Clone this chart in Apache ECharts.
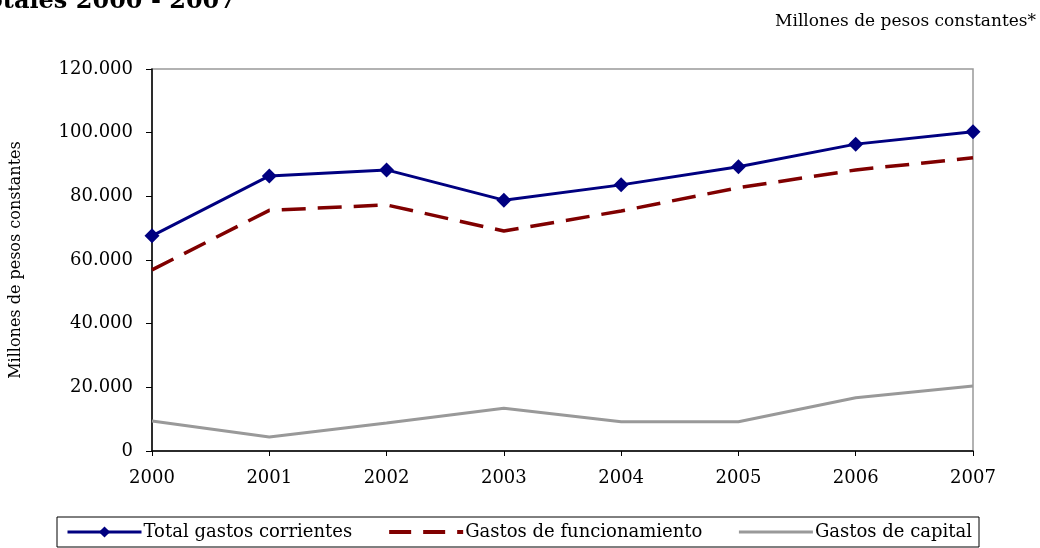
<!DOCTYPE html>
<html>
<head>
<meta charset="utf-8">
<script src="https://cdn.jsdelivr.net/npm/echarts@6/dist/echarts.min.js"></script>
<style>
  html, body { margin: 0; padding: 0; background: #fff; }
  #chart { width: 1040px; height: 548px; }
</style>
</head>
<body>
<div id="chart"></div>
<script>
// años
var years = ['2000', '2001', '2002', '2003', '2004', '2005', '2006', '2007']
// series (millones de pesos constantes)
var totalCorrientes = [67600, 86400, 88300, 78800, 83600, 89300, 96400, 100300]
var funcionamiento = [56900, 75600, 77300, 69100, 75400, 82700, 88300, 92100]
var capital = [9400, 4400, 8800, 13400, 9200, 9200, 16700, 20400]
var seriesNames = ['Total gastos corrientes', 'Gastos de funcionamiento', 'Gastos de capital']

var font = 'DejaVu Serif'
var noSymbol = { color: 'rgba(0,0,0,0)', borderWidth: 0 }

var myChart = echarts.init(document.getElementById('chart'))
myChart.setOption({
  animation: false,
  textStyle: { fontFamily: font, color: '#000' },
  title: [
    {
      // título cortado arriba
      text: 'Gastos totales 2000 - 2007',
      right: 804,
      top: -10,
      padding: 0,
      textStyle: { fontFamily: font, fontSize: 24, fontWeight: 'bold', color: '#000' }
    },
    {
      text: 'Millones de pesos constantes*',
      right: 4,
      top: 13,
      padding: 0,
      textStyle: { fontFamily: font, fontSize: 17, fontWeight: 'normal', color: '#000' }
    }
  ],
  grid: {
    left: 152,
    right: 67,
    top: 69,
    bottom: 97,
    show: true,
    borderColor: '#999',
    borderWidth: 1.5
  },
  legend: {
    left: 57,
    top: 517,
    padding: [6, 7, 6, 9],
    borderColor: '#000',
    borderWidth: 1,
    itemWidth: 74,
    itemHeight: 14,
    itemGap: 35,
    data: [
      { name: seriesNames[0], lineStyle: { width: 3 } },
      { name: seriesNames[1], itemStyle: noSymbol, lineStyle: { width: 4, type: [22, 12] } },
      { name: seriesNames[2], itemStyle: noSymbol, lineStyle: { width: 3 } }
    ],
    textStyle: { fontFamily: font, fontSize: 18, color: '#000', padding: [0, 0, 0, -3] }
  },
  xAxis: {
    type: 'category',
    data: years,
    boundaryGap: false,
    axisLine: { lineStyle: { color: '#000', width: 1.5 } },
    axisTick: { show: true, length: 5, lineStyle: { color: '#000' } },
    axisLabel: { fontFamily: font, fontSize: 18, color: '#000', margin: 18 }
  },
  yAxis: {
    type: 'value',
    min: 0,
    max: 120000,
    interval: 20000,
    name: 'Millones de pesos constantes',
    nameLocation: 'middle',
    nameGap: 128,
    nameTextStyle: { fontFamily: font, fontSize: 16, color: '#000' },
    axisLine: { show: true, lineStyle: { color: '#000', width: 1.5 } },
    axisTick: { show: true, length: 6, lineStyle: { color: '#000' } },
    splitLine: { show: false },
    axisLabel: {
      fontFamily: font,
      fontSize: 18,
      color: '#000',
      margin: 19,
      formatter: function (v) {
        return v === 0 ? '0' : String(v).replace(/\B(?=(\d{3})+(?!\d))/g, '.')
      }
    }
  },
  series: [
    {
      name: seriesNames[0],
      type: 'line',
      data: totalCorrientes,
      symbol: 'diamond',
      symbolSize: 15,
      color: '#000080',
      itemStyle: { color: '#000080' },
      lineStyle: { color: '#000080', width: 3 },
      z: 4
    },
    {
      name: seriesNames[1],
      type: 'line',
      data: funcionamiento,
      symbol: 'none',
      color: '#800000',
      lineStyle: { color: '#800000', width: 3.5, type: [24, 12] },
      z: 3
    },
    {
      name: seriesNames[2],
      type: 'line',
      data: capital,
      symbol: 'none',
      color: '#999999',
      lineStyle: { color: '#999999', width: 3 },
      z: 2
    }
  ]
})
</script>
</body>
</html>
